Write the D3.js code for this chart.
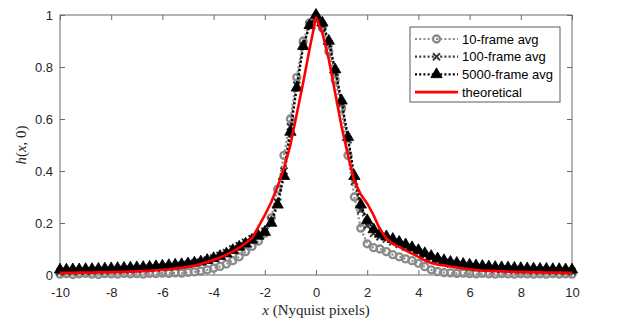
<!DOCTYPE html>
<html>
<head>
<meta charset="utf-8">
<script src="https://cdn.jsdelivr.net/npm/d3@7"></script>
<style>
  body { margin: 0; background: #fff; }
  svg { display: block; }
</style>
</head>
<body>
<svg id="plot" width="630" height="323"></svg>
<script>
const svg = d3.select("#plot");

// sample positions (Nyquist pixels), one every quarter pixel
const xs = d3.range(-10, 10.001, 0.25);

// 10-frame average
const avg10 = [
  0.003, 0.005, 0.002, 0.004, 0.006, 0.003, 0.002, 0.005, 0.004, 0.003, 0.006, 0.004, 0.005, 0.003, 0.006, 0.005, 0.007,
  0.006, 0.008, 0.007, 0.010, 0.012, 0.015, 0.020, 0.026, 0.033, 0.042, 0.055, 0.070, 0.090, 0.110, 0.130, 0.160,
  0.220, 0.330, 0.460, 0.600, 0.760, 0.900, 0.970,
  0.990,
  0.950, 0.860, 0.750, 0.640, 0.460, 0.300, 0.180, 0.120, 0.105, 0.100, 0.090, 0.078, 0.070, 0.062, 0.055, 0.045,
  0.032, 0.020, 0.013, 0.009,
  0.008, 0.006, 0.007, 0.005, 0.004, 0.006, 0.004, 0.003, 0.005, 0.004, 0.003, 0.005, 0.004, 0.003, 0.004, 0.003,
  0.005, 0.003, 0.004, 0.003
];

// 100-frame average
const avg100 = [
  0.012, 0.014, 0.013, 0.015, 0.014, 0.016, 0.017, 0.016, 0.018, 0.019, 0.020, 0.021, 0.022, 0.024, 0.025, 0.027, 0.029,
  0.031, 0.034, 0.037, 0.041, 0.045, 0.050, 0.057, 0.065, 0.075, 0.086, 0.100, 0.113, 0.126, 0.140, 0.153, 0.168,
  0.210, 0.280, 0.400, 0.570, 0.730, 0.880, 0.960,
  0.990,
  0.960, 0.890, 0.780, 0.660, 0.520, 0.360, 0.250, 0.190, 0.160, 0.147, 0.138, 0.128, 0.118, 0.108, 0.098, 0.087,
  0.076, 0.065, 0.056, 0.049,
  0.043, 0.039, 0.035, 0.032, 0.029, 0.027, 0.025, 0.023, 0.022, 0.021, 0.020, 0.019, 0.018, 0.017, 0.017, 0.016,
  0.015, 0.015, 0.014, 0.014
];

// 5000-frame average
const avg5000 = [
  0.020, 0.020, 0.021, 0.021, 0.022, 0.022, 0.023, 0.024, 0.025, 0.026, 0.027, 0.028, 0.029, 0.030, 0.031, 0.033, 0.035,
  0.037, 0.039, 0.041, 0.044, 0.047, 0.051, 0.057, 0.064, 0.072, 0.082, 0.095, 0.108, 0.120, 0.135, 0.150, 0.165,
  0.200, 0.270, 0.380, 0.550, 0.720, 0.880, 0.960,
  1.000,
  0.970, 0.900, 0.790, 0.670, 0.530, 0.380, 0.270, 0.210, 0.175, 0.158, 0.148, 0.138, 0.127, 0.117, 0.106, 0.095,
  0.083, 0.072, 0.063, 0.056,
  0.050, 0.046, 0.042, 0.039, 0.036, 0.034, 0.032, 0.030, 0.029, 0.028, 0.027, 0.026, 0.025, 0.024, 0.023, 0.023,
  0.022, 0.022, 0.021, 0.020
];

// theoretical profile
const theory = [
  0.008, 0.008, 0.008, 0.009, 0.009, 0.009, 0.010, 0.010, 0.011, 0.011, 0.012, 0.013, 0.014, 0.015, 0.016, 0.018, 0.020,
  0.022, 0.025, 0.028, 0.032, 0.036, 0.042, 0.050, 0.058, 0.067, 0.078, 0.090, 0.105, 0.122, 0.142, 0.185, 0.230,
  0.280, 0.340, 0.410, 0.500, 0.620, 0.740, 0.870,
  0.990,
  0.930, 0.830, 0.700, 0.570, 0.460, 0.360, 0.310, 0.275, 0.230, 0.175, 0.140, 0.120, 0.108, 0.095, 0.082, 0.070,
  0.056, 0.046, 0.040, 0.037,
  0.033, 0.029, 0.025, 0.022, 0.019, 0.017, 0.016, 0.015, 0.014, 0.013, 0.012, 0.011, 0.011, 0.010, 0.010, 0.009,
  0.009, 0.009, 0.008, 0.008
];

const xTicks = [-10, -8, -6, -4, -2, 0, 2, 4, 6, 8, 10];
const yTicks = [0, 0.2, 0.4, 0.6, 0.8, 1];
const legendLabels = ["10-frame avg", "100-frame avg", "5000-frame avg", "theoretical"];

const plotLeft = 60, plotRight = 572, plotTop = 15, plotBottom = 275;

const x = d3.scaleLinear().domain([-10, 10]).range([plotLeft, plotRight]);
const y = d3.scaleLinear().domain([0, 1]).range([plotBottom, plotTop]);

const axisColor = "#6a6a6a";
const textColor = "#262626";

// axes with inward ticks
function styleAxis(g) {
  g.select(".domain").remove();
  g.selectAll(".tick line").attr("stroke", axisColor);
  g.selectAll(".tick text")
    .attr("fill", textColor)
    .style("font-family", "'Liberation Sans', Arial, sans-serif")
    .style("font-size", "13px");
}

svg.append("g")
  .attr("transform", `translate(0,${plotBottom})`)
  .call(d3.axisBottom(x).tickValues(xTicks).tickSize(-5).tickPadding(13).tickFormat(d => String(d)))
  .call(styleAxis);

svg.append("g")
  .attr("transform", `translate(0,${plotTop})`)
  .call(d3.axisTop(x).tickValues(xTicks).tickSize(-5).tickFormat(""))
  .call(styleAxis);

svg.append("g")
  .attr("transform", `translate(${plotLeft},0)`)
  .call(d3.axisLeft(y).tickValues(yTicks).tickSize(-5).tickPadding(7).tickFormat(d => String(d)))
  .call(styleAxis);

svg.append("g")
  .attr("transform", `translate(${plotRight},0)`)
  .call(d3.axisRight(y).tickValues(yTicks).tickSize(-5).tickFormat(""))
  .call(styleAxis);

// box
svg.append("rect")
  .attr("x", plotLeft).attr("y", plotTop)
  .attr("width", plotRight - plotLeft).attr("height", plotBottom - plotTop)
  .attr("fill", "none")
  .attr("stroke", axisColor)
  .attr("stroke-width", 1);

const line = d3.line().x(d => x(d[0])).y(d => y(d[1]));

const series = [
  { name: legendLabels[0], values: avg10, color: "#8a8a8a", dash: "2,2.2", width: 2.2, marker: "circle" },
  { name: legendLabels[1], values: avg100, color: "#3a3a3a", dash: "2,2.2", width: 2.2, marker: "x" },
  { name: legendLabels[2], values: avg5000, color: "#000000", dash: "2,2.2", width: 2.2, marker: "triangle" },
  { name: legendLabels[3], values: theory, color: "#ff0000", dash: null, width: 2.6, marker: null }
];

function drawMarker(g, s, cx, cy) {
  if (s.marker === "circle") {
    g.append("circle")
      .attr("cx", cx).attr("cy", cy).attr("r", 3.5)
      .attr("fill", "none")
      .attr("stroke", s.color)
      .attr("stroke-width", 2.3);
  } else if (s.marker === "x") {
    g.append("path")
      .attr("transform", `translate(${cx},${cy})`)
      .attr("d", d3.symbol().type(d3.symbolX).size(34)())
      .attr("fill", "none")
      .attr("stroke", s.color)
      .attr("stroke-width", 2);
  } else if (s.marker === "triangle") {
    g.append("path")
      .attr("transform", `translate(${cx},${cy})`)
      .attr("d", d3.symbol().type(d3.symbolTriangle).size(56)())
      .attr("fill", s.color)
      .attr("stroke", s.color)
      .attr("stroke-width", 0.8);
  }
}

series.forEach(s => {
  const pts = xs.map((v, i) => [v, s.values[i]]);
  const g = svg.append("g");
  g.append("path")
    .datum(pts)
    .attr("d", line)
    .attr("fill", "none")
    .attr("stroke", s.color)
    .attr("stroke-width", s.width)
    .attr("stroke-dasharray", s.dash)
    .attr("stroke-linejoin", "round");
  if (s.marker) {
    pts.forEach(p => drawMarker(g, s, x(p[0]), y(p[1])));
  }
});

// legend
const legend = svg.append("g");
legend.append("rect")
  .attr("x", 410).attr("y", 27)
  .attr("width", 150).attr("height", 75)
  .attr("fill", "#fff")
  .attr("stroke", "#333")
  .attr("stroke-width", 0.8);

series.forEach((s, i) => {
  const ly = 39 + i * 17.7;
  legend.append("line")
    .attr("x1", 415).attr("x2", 458)
    .attr("y1", ly).attr("y2", ly)
    .attr("stroke", s.color)
    .attr("stroke-width", s.width)
    .attr("stroke-dasharray", s.dash);
  if (s.marker) drawMarker(legend, s, 436.5, ly);
  legend.append("text")
    .attr("x", 462).attr("y", ly)
    .attr("dy", "0.35em")
    .attr("fill", "#000")
    .style("font-family", "'Liberation Sans', Arial, sans-serif")
    .style("font-size", "13px")
    .text(s.name);
});

// axis labels
const xl = svg.append("text")
  .attr("x", 316).attr("y", 315)
  .attr("text-anchor", "middle")
  .attr("fill", textColor)
  .style("font-family", "'Liberation Serif', 'Times New Roman', serif")
  .style("font-size", "15px");
xl.append("tspan").style("font-style", "italic").text("x");
xl.append("tspan").text(" (Nyquist pixels)");

const yl = svg.append("text")
  .attr("transform", "translate(26,145) rotate(-90)")
  .attr("text-anchor", "middle")
  .attr("fill", textColor)
  .style("font-family", "'Liberation Serif', 'Times New Roman', serif")
  .style("font-size", "15px");
yl.append("tspan").style("font-style", "italic").text("h");
yl.append("tspan").text("(");
yl.append("tspan").style("font-style", "italic").text("x");
yl.append("tspan").text(", 0)");
</script>
</body>
</html>
